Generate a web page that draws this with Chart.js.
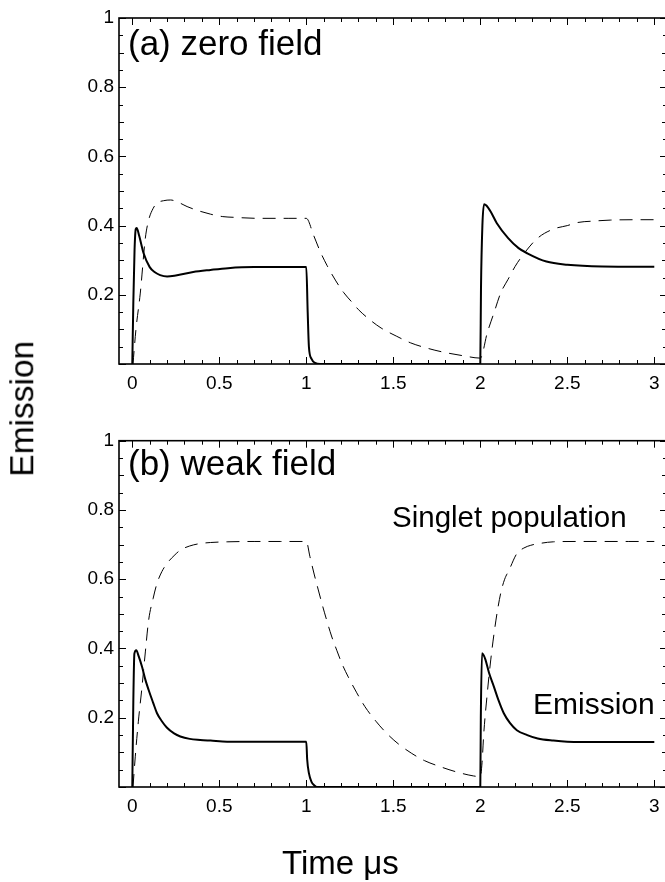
<!DOCTYPE html>
<html>
<head>
<meta charset="utf-8">
<script src="https://cdn.jsdelivr.net/npm/chart.js@4.4.1/dist/chart.umd.min.js"></script>
<style>
  html, body { margin: 0; padding: 0; background: #fff; overflow: hidden; width: 665px; height: 882px; }
  canvas { position: absolute; left: 0; }
  .txt { position: absolute; font-family: "Liberation Sans", Arial, sans-serif; color: #000; line-height: 1; white-space: nowrap; }
</style>
</head>
<body>
<canvas id="c1" width="672" height="420" style="top:0px"></canvas>
<canvas id="c2" width="672" height="462" style="top:420px"></canvas>

<div class="txt" style="left:128px; top:25px; font-size:35px;">(a) zero field</div>
<div class="txt" style="left:128px; top:445px; font-size:35px;">(b) weak field</div>
<div class="txt" style="left:392px; top:502px; font-size:29.5px;">Singlet population</div>
<div class="txt" style="left:533px; top:689px; font-size:30px;">Emission</div>
<div class="txt" style="left:282px; top:846px; font-size:33px;">Time μs</div>
<div class="txt" style="left:-78px; top:392px; width:200px; text-align:center; font-size:33.5px; transform:rotate(-90deg);">Emission</div>

<script>
// ---- tick labels ----
const xTicks = [0, 0.5, 1, 1.5, 2, 2.5, 3];
const xTickLabels = ['0', '0.5', '1', '1.5', '2', '2.5', '3'];
const yTicks = [0, 0.2, 0.4, 0.6, 0.8, 1];
const yTickLabels = ['', '0.2', '0.4', '0.6', '0.8', '1'];

// ---- (a) zero field ----
const tEmA = [0, 0.006, 0.013, 0.02, 0.025, 0.04, 0.065, 0.10, 0.13, 0.16, 0.20, 0.25, 0.35, 0.45, 0.55, 0.70, 0.85, 1.0, 1.008, 1.015, 1.03, 1.05, 1.08, 1.5, 2.0, 2.004, 2.012, 2.022, 2.035, 2.06, 2.095, 2.16, 2.22, 2.27, 2.38, 2.5, 2.7, 3.0];
const emA  = [0, 0.18, 0.33, 0.39, 0.393, 0.37, 0.32, 0.28, 0.265, 0.257, 0.253, 0.256, 0.266, 0.272, 0.277, 0.28, 0.28, 0.28, 0.15, 0.05, 0.015, 0.003, 0, 0, 0, 0.22, 0.40, 0.462, 0.458, 0.44, 0.407, 0.364, 0.335, 0.32, 0.296, 0.287, 0.282, 0.281];
const tSgA = [0.004, 0.021, 0.046, 0.075, 0.094, 0.12, 0.142, 0.18, 0.22, 0.27, 0.315, 0.38, 0.45, 0.52, 0.58, 0.73, 0.9, 1.0, 1.042, 1.08, 1.12, 1.17, 1.214, 1.26, 1.30, 1.36, 1.43, 1.52, 1.60, 1.70, 1.79, 1.9, 2.0, 2.04, 2.08, 2.117, 2.16, 2.20, 2.26, 2.33, 2.42, 2.5, 2.56, 2.65, 2.75, 2.9, 3.0];
const sgA  = [0, 0.1, 0.205, 0.364, 0.416, 0.45, 0.465, 0.472, 0.474, 0.466, 0.455, 0.443, 0.433, 0.426, 0.424, 0.421, 0.421, 0.421, 0.372, 0.325, 0.284, 0.24, 0.207, 0.18, 0.157, 0.13, 0.104, 0.08, 0.061, 0.045, 0.034, 0.024, 0.017, 0.09, 0.15, 0.205, 0.245, 0.282, 0.325, 0.364, 0.39, 0.40, 0.409, 0.413, 0.416, 0.417, 0.417];

// ---- (b) weak field ----
const tEmB = [0, 0.006, 0.012, 0.023, 0.035, 0.056, 0.075, 0.094, 0.12, 0.142, 0.17, 0.198, 0.24, 0.276, 0.33, 0.39, 0.45, 0.545, 0.7, 0.85, 1.0, 1.005, 1.015, 1.03, 1.045, 1.06, 1.5, 2.0, 2.003, 2.01, 2.02, 2.03, 2.05, 2.078, 2.105, 2.135, 2.17, 2.21, 2.27, 2.33, 2.42, 2.5, 2.7, 3.0];
const emB  = [0, 0.25, 0.385, 0.395, 0.38, 0.347, 0.31, 0.28, 0.243, 0.213, 0.19, 0.172, 0.155, 0.146, 0.139, 0.136, 0.134, 0.131, 0.131, 0.131, 0.131, 0.08, 0.04, 0.015, 0.005, 0, 0, 0, 0.2, 0.386, 0.38, 0.367, 0.33, 0.29, 0.25, 0.213, 0.185, 0.164, 0.15, 0.14, 0.134, 0.131, 0.13, 0.13];
const tSgB = [0.004, 0.017, 0.035, 0.056, 0.075, 0.094, 0.12, 0.142, 0.17, 0.20, 0.24, 0.276, 0.33, 0.39, 0.45, 0.545, 0.7, 0.85, 1.0, 1.021, 1.045, 1.069, 1.093, 1.117, 1.145, 1.175, 1.205, 1.241, 1.29, 1.337, 1.40, 1.462, 1.53, 1.606, 1.68, 1.768, 1.86, 1.96, 2.0, 2.01, 2.02, 2.04, 2.06, 2.09, 2.117, 2.14, 2.165, 2.21, 2.25, 2.29, 2.35, 2.42, 2.55, 2.7, 2.85, 3.0];
const sgB  = [0, 0.087, 0.19, 0.29, 0.39, 0.482, 0.545, 0.588, 0.622, 0.646, 0.668, 0.684, 0.696, 0.703, 0.706, 0.708, 0.709, 0.709, 0.709, 0.665, 0.615, 0.569, 0.524, 0.482, 0.436, 0.395, 0.356, 0.318, 0.272, 0.232, 0.19, 0.155, 0.124, 0.097, 0.076, 0.059, 0.044, 0.032, 0.03, 0.07, 0.155, 0.27, 0.367, 0.482, 0.559, 0.60, 0.626, 0.674, 0.69, 0.698, 0.704, 0.708, 0.709, 0.709, 0.709, 0.709];

const FONT = '"Liberation Sans", Arial, sans-serif';

function pts(t, v) { return t.map((ti, i) => ({ x: ti, y: v[i] })); }

const framePlugin = {
  id: 'frame',
  afterDatasetsDraw(chart) {
    const { ctx, chartArea: a, scales } = chart;
    const x = scales.x, y = scales.y;
    ctx.save();
    ctx.strokeStyle = '#000';
    ctx.lineWidth = 1;
    ctx.beginPath();
    for (let k = 0; k <= 30; k++) {
      const v = k / 10;
      const px = Math.round(x.getPixelForValue(v)) + 0.5;
      const len = (k % 5 === 0) ? 7 : 4;
      ctx.moveTo(px, a.bottom); ctx.lineTo(px, a.bottom - len);
      ctx.moveTo(px, a.top); ctx.lineTo(px, a.top + len);
    }
    for (let k = 0; k <= 20; k++) {
      const v = k / 20;
      const py = Math.round(y.getPixelForValue(v)) + 0.5;
      const len = (k % 4 === 0) ? 7 : (k % 2 === 0 ? 5 : 4);
      ctx.moveTo(a.left, py); ctx.lineTo(a.left + len, py);
      ctx.moveTo(a.right, py); ctx.lineTo(a.right - len, py);
    }
    ctx.stroke();
    ctx.lineWidth = 1.6;
    ctx.strokeRect(a.left, a.top, a.right - a.left, a.bottom - a.top);
    ctx.restore();
  }
};

function makeChart(id, tEm, em, tSg, sg, padTop, padBottom) {
  return new Chart(document.getElementById(id), {
    type: 'line',
    data: {
      datasets: [
        { label: 'Singlet population', data: pts(tSg, sg), borderColor: '#000', borderWidth: 1, borderDash: [13, 8],
          pointRadius: 0, fill: false, cubicInterpolationMode: 'monotone' },
        { label: 'Emission', data: pts(tEm, em), borderColor: '#000', borderWidth: 2,
          pointRadius: 0, fill: false, cubicInterpolationMode: 'monotone' }
      ]
    },
    options: {
      responsive: false,
      devicePixelRatio: 1,
      animation: false,
      layout: { padding: { top: padTop, left: 0, right: 5, bottom: padBottom } },
      plugins: { legend: { display: false }, tooltip: { enabled: false }, title: { display: false } },
      scales: {
        x: {
          type: 'linear', min: -0.0764, max: 3.073,
          grid: { display: false, drawTicks: false },
          border: { display: false },
          afterBuildTicks: s => { s.ticks = xTicks.map(v => ({ value: v })); },
          afterFit: s => { s.height = 30; },
          ticks: {
            autoSkip: false, maxRotation: 0, padding: 8, color: '#000',
            font: { family: FONT, size: 19 },
            callback: v => xTickLabels[xTicks.indexOf(v)]
          }
        },
        y: {
          type: 'linear', min: 0, max: 1,
          grid: { display: false, drawTicks: false },
          border: { display: false },
          afterBuildTicks: s => { s.ticks = yTicks.map(v => ({ value: v })); },
          afterFit: s => { s.width = 119; },
          ticks: {
            autoSkip: false, padding: 5, color: '#000',
            font: { family: FONT, size: 19 },
            callback: v => yTickLabels[yTicks.indexOf(v)]
          }
        }
      }
    },
    plugins: [framePlugin]
  });
}

makeChart('c1', tEmA, emA, tSgA, sgA, 18, 26);
makeChart('c2', tEmB, emB, tSgB, sgB, 20.7, 65);
</script>
</body>
</html>
